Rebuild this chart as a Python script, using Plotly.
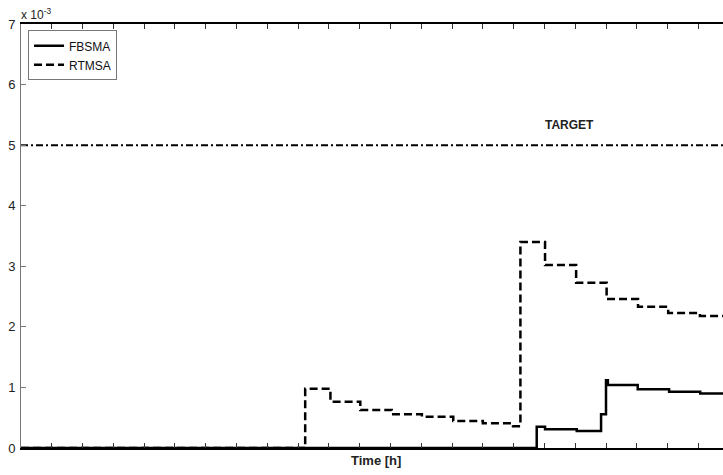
import plotly.graph_objects as go

# values in units of 1e-3
rtmsa_t = [0, 9.23, 9.23, 10.05, 11.02, 12.04, 13.02, 14.04, 15.0, 15.98, 16.22, 16.22, 16.45, 17.02, 18.03, 19.02, 20.04, 21.02, 22.05, 22.8]
rtmsa_v = [0, 0, 0.98, 0.765, 0.627, 0.556, 0.517, 0.446, 0.407, 0.36, 0.36, 3.40, 3.40, 3.02, 2.73, 2.46, 2.33, 2.23, 2.18, 2.18]

fbsma_t = [0, 16.75, 16.75, 17.02, 18.05, 18.84, 18.84, 19.0, 19.0, 19.06, 20.03, 21.05, 22.06, 22.8]
fbsma_v = [0, 0, 0.352, 0.31, 0.28, 0.28, 0.556, 0.556, 1.12, 1.04, 0.97, 0.93, 0.90, 0.90]

target_t = [0, 22.8]
target_v = [5, 5]

y_ticks = [0, 1, 2, 3, 4, 5, 6, 7]
x_ticks = list(range(0, 23))

fig = go.Figure()
fig.add_trace(go.Scatter(x=target_t, y=target_v, mode="lines", showlegend=False,
                         line=dict(color="black", width=2, dash="7px,3px,2px,3px")))
fig.add_trace(go.Scatter(x=fbsma_t, y=fbsma_v, mode="lines", name="FBSMA",
                         line=dict(color="black", width=2.5, shape="hv")))
fig.add_trace(go.Scatter(x=rtmsa_t, y=rtmsa_v, mode="lines", name="RTMSA",
                         line=dict(color="black", width=2.5, shape="hv", dash="8px,4px")))

fig.add_annotation(x=17.8, y=5.18, text="<b>TARGET</b>", showarrow=False,
                   yanchor="bottom", font=dict(size=12, color="#222"))
fig.add_annotation(xref="paper", yref="paper", x=0, y=1, xanchor="left", yanchor="bottom",
                   text="x 10<sup>-3</sup>", showarrow=False, xshift=-2,
                   font=dict(size=12, color="#222"))
fig.add_annotation(xref="paper", yref="paper", x=(376 - 21) / 702, y=0, yanchor="top",
                   yshift=-3, text="<b>Time [h]</b>", showarrow=False,
                   font=dict(size=13, color="#222"))

fig.update_layout(
    width=723, height=475,
    margin=dict(l=21, r=0, t=24, b=27),
    plot_bgcolor="white", paper_bgcolor="white",
    font=dict(family="Liberation Sans, Arial, sans-serif", size=13, color="#222"),
    showlegend=True,
    legend=dict(x=0.01, y=0.985, xanchor="left", yanchor="top",
                bordercolor="#777", borderwidth=1, bgcolor="white",
                font=dict(size=12, color="#111"), tracegroupgap=0,
                itemwidth=30),
    xaxis=dict(range=[0, 22.8], tickvals=x_ticks, showticklabels=False,
               ticks="inside", ticklen=5, tickcolor="#333", showgrid=False,
               zeroline=False, showline=True, linecolor="black", linewidth=2,
               mirror="ticks"),
    yaxis=dict(range=[0, 7], tickvals=y_ticks,
               ticks="inside", ticklen=5, tickcolor="#777", showgrid=False,
               zeroline=False, showline=True, linecolor="#777", linewidth=1,
               mirror=False, ticklabelstandoff=2),
)
fig.write_html("out.html")
